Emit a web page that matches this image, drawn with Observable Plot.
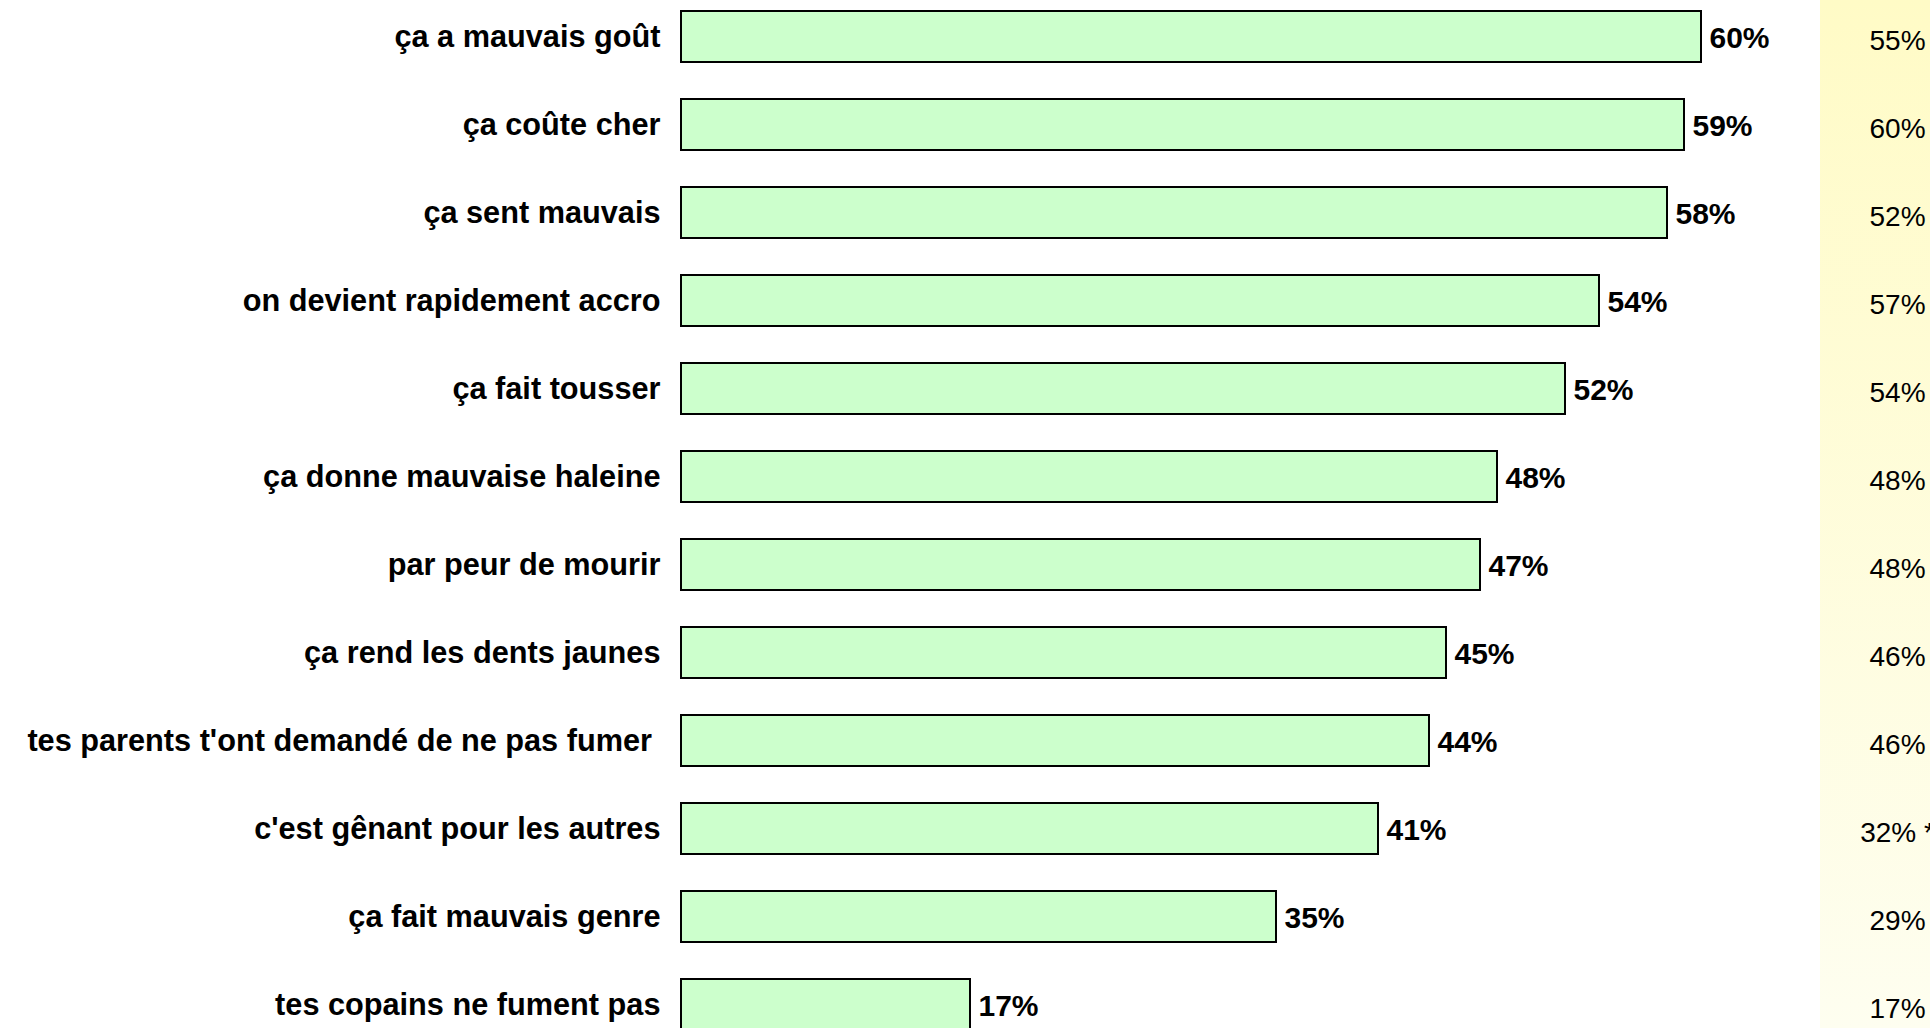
<!DOCTYPE html>
<html>
<head>
<meta charset="utf-8">
<script src="https://cdn.jsdelivr.net/npm/d3@7"></script>
<script src="https://cdn.jsdelivr.net/npm/@observablehq/plot@0.6"></script>
<style>
  html, body { margin: 0; padding: 0; background: white; overflow: hidden; }
  #wrap { position: relative; width: 1930px; height: 1028px; overflow: hidden; }
  #panel { position: absolute; left: 1820px; top: 0; width: 110px; height: 1028px;
           background: linear-gradient(#FFFBC6, #FEFEF0); }
  #chart { position: absolute; left: 0; top: 0; }
</style>
</head>
<body>
<div id="wrap">
  <div id="panel"></div>
  <div id="chart"></div>
</div>
<script>
const categories = [
  "ça a mauvais goût",
  "ça coûte cher",
  "ça sent mauvais",
  "on devient rapidement accro",
  "ça fait tousser",
  "ça donne mauvaise haleine",
  "par peur de mourir",
  "ça rend les dents jaunes",
  "tes parents t'ont demandé de ne pas fumer\u00a0",
  "c'est gênant pour les autres",
  "ça fait mauvais genre",
  "tes copains ne fument pas"
];
const values = [60, 59, 58, 54, 52, 48, 47, 45, 44, 41, 35, 17];
const previousLabels = ["55%", "60%", "52%", "57%", "54%", "48%", "48%", "46%", "46%", "32% *", "29%", "17%"];

const data = categories.map((c, i) => ({category: c, value: values[i], prev: previousLabels[i]}));

const chart = Plot.plot({
  width: 1930,
  height: 1028,
  marginLeft: 681,
  marginRight: 229,
  marginTop: 0,
  marginBottom: 0,
  x: {domain: [0, 60], range: [681, 1701], axis: null},
  y: {domain: categories, range: [10, 1031], paddingInner: 0.4216, paddingOuter: 0},
  style: {background: "transparent", fontFamily: "'Liberation Sans', Arial, sans-serif", color: "black", overflow: "hidden"},
  marks: [
    Plot.barX(data, {x: "value", y: "category", fill: "#CCFFCC", stroke: "#000", strokeWidth: 2}),
    Plot.axisY({tickSize: 0, tickPadding: 21, fontSize: 30.7, fontWeight: "bold", fill: "black", label: null}),
    Plot.text(data, {x: "value", y: "category", text: d => d.value + "%", dx: 8, dy: 1, textAnchor: "start", fontSize: 30, fontWeight: "bold", fill: "black"}),
    Plot.text(data, {y: "category", text: "prev", frameAnchor: "right", dx: 196, dy: 4, textAnchor: "middle", fontSize: 28, fill: "black"})
  ]
});
document.getElementById("chart").appendChild(chart);
</script>
</body>
</html>
